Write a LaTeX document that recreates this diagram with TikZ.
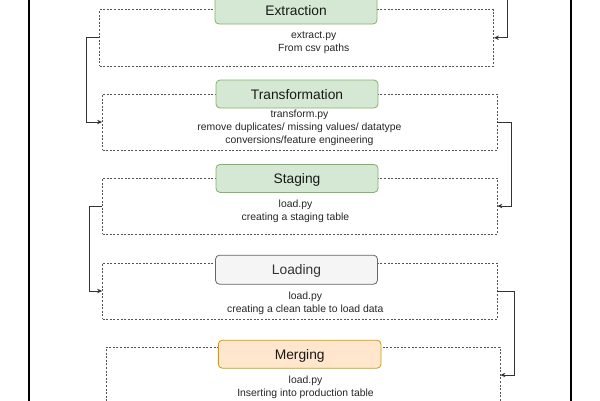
\documentclass[tikz,border=0pt]{standalone}
\usepackage{fontspec}
\setmainfont{Liberation Sans}
\usetikzlibrary{arrows.meta}
\definecolor{grfill}{HTML}{D5E8D4}
\definecolor{grline}{HTML}{82B366}
\definecolor{gyfill}{HTML}{F5F5F5}
\definecolor{gyline}{HTML}{666666}
\definecolor{gytext}{HTML}{333333}
\definecolor{orfill}{HTML}{FFE6CC}
\definecolor{orline}{HTML}{D79B00}
\definecolor{dashcol}{HTML}{555555}
\definecolor{conncol}{HTML}{333333}
\tikzset{
  group/.style={draw=dashcol, line width=0.8pt, dash pattern=on 2pt off 1.6pt, inner sep=0pt, rectangle},
  header/.style={rectangle, rounded corners=4pt, line width=0.8pt, inner sep=0pt,
    minimum width=162pt, minimum height=28pt, text height=10pt, text depth=0pt,
    font=\fontsize{13.8}{16}\selectfont, text=black!90},
  hgreen/.style={header, fill=grfill, draw=grline},
  hgray/.style={header, fill=gyfill, draw=gyline, text=gytext},
  horange/.style={header, fill=orfill, draw=orline},
  body/.style={align=center, inner sep=0pt, font=\fontsize{10.4}{13}\selectfont, text=black!85},
  conn/.style={draw=conncol, line width=0.9pt, -{Stealth[length=5pt,width=4.5pt]}},
  frame/.style={line width=2.5pt, draw=black}
}
\begin{document}
\begin{tikzpicture}[x=1pt,y=-1pt]
\useasboundingbox (0,0) rectangle (600,400);
\clip (0,0) rectangle (600,400);
\fill[white] (0,0) rectangle (600,400);
% outer frame (cropped)
\coordinate (fl1) at (29,-10);
\coordinate (fl2) at (29,410);
\coordinate (fr1) at (571,-10);
\coordinate (fr2) at (571,410);
\draw[frame] (fl1) -- (fl2);
\draw[frame] (fr1) -- (fr2);
% dashed groups
\node[group, minimum width=394pt, minimum height=56.5pt] (g1) at (296.5,37.75) {};
\node[group, minimum width=394.5pt, minimum height=56pt] (g2) at (299.75,122) {};
\node[group, minimum width=394.5pt, minimum height=56pt] (g3) at (299.75,206) {};
\node[group, minimum width=394.5pt, minimum height=56pt] (g4) at (299.75,291) {};
\node[group, minimum width=394pt, minimum height=56pt] (g5) at (303,375) {};
% headers
\node[hgreen] (h1) at (296,10) {Extraction};
\node[hgreen] (h2) at (297,94) {Transformation};
\node[hgreen] (h3) at (297,178.4) {Staging};
\node[hgray, minimum height=29pt] (h4) at (296.5,269.7) {Loading};
\node[horange, minimum width=162.7pt] (h5) at (299.7,354.2) {Merging};
% body texts
\node[body] (t1) at (313.7,43.2) {extract.py\\From csv paths};
\node[body] (t2) at (299.5,127.6) {transform.py\\remove duplicates/ missing values/ datatype\\conversions/feature engineering};
\node[body] (t3) at (295.5,211.8) {load.py\\creating a staging table};
\node[body] (t4) at (305.3,303.2) {load.py\\creating a clean table to load data};
\node[body] (t5) at (305.5,387.2) {load.py\\Inserting into production table};
% connectors
\coordinate (in1) at (507,-10);
\coordinate (k1) at (86,0);
\coordinate (k2) at (511,0);
\coordinate (k3) at (89,0);
\coordinate (k4) at (514,0);
\draw[conn] (in1) |- (g1.east);
\draw[conn] (g1.west) -- (g1.west -| k1) |- (g2.west);
\draw[conn] (g2.east) -- (g2.east -| k2) |- (g3.east);
\draw[conn] (g3.west) -- (g3.west -| k3) |- (g4.west);
\draw[conn] (g4.east) -- (g4.east -| k4) |- (g5.east);
\end{tikzpicture}
\end{document}
